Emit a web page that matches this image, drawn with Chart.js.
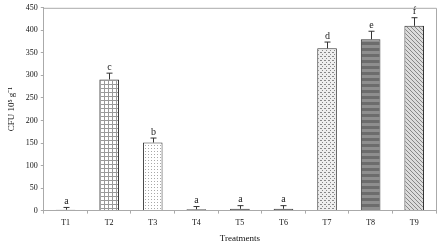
<!DOCTYPE html>
<html>
<head>
<meta charset="utf-8">
<script src="https://cdn.jsdelivr.net/npm/chart.js@4"></script>
<style>
  html, body { margin: 0; padding: 0; background: #fff; }
  #wrap { width: 440px; height: 245px; }
</style>
</head>
<body>
<div id="wrap"><canvas id="bar-chart" width="440" height="245"></canvas></div>
<script>
const treatments = ['T1', 'T2', 'T3', 'T4', 'T5', 'T6', 'T7', 'T8', 'T9']
const cfu = [2, 291, 151, 3, 4, 4, 360, 380, 410]
const errors = [5, 14, 10, 6, 7, 7, 14, 18, 18]
const letters = ['a', 'c', 'b', 'a', 'a', 'a', 'd', 'e', 'f']
const yTicks = [0, 50, 100, 150, 200, 250, 300, 350, 400, 450]

// little tile patterns for the bar fills
function tile(w, h, draw) {
    const c = document.createElement('canvas')
    c.width = w
    c.height = h
    const g = c.getContext('2d')
    draw(g)
    return g.createPattern(c, 'repeat')
}
const ctx = document.getElementById('bar-chart').getContext('2d')

const gridPat = tile(4, 4, g => {
    g.fillStyle = '#fff'; g.fillRect(0, 0, 4, 4)
    g.fillStyle = '#9a9a9a'; g.fillRect(0, 0, 4, 1); g.fillRect(0, 0, 1, 4)
})
const dotPat = tile(3, 3, g => {
    g.fillStyle = '#fff'; g.fillRect(0, 0, 3, 3)
    g.fillStyle = '#a8a8a8'; g.fillRect(1, 1, 1, 1)
})
const dashPat = tile(4, 4, g => {
    g.fillStyle = '#eee'; g.fillRect(0, 0, 4, 4)
    g.fillStyle = '#888'; g.fillRect(0, 0, 2, 1); g.fillRect(2, 2, 1, 1)
})
const stripePat = tile(6, 6, g => {
    g.fillStyle = '#6c6c6c'; g.fillRect(0, 0, 6, 6)
    g.fillStyle = '#8e8e8e'; g.fillRect(0, 3, 6, 3)
})
const hatchPat = tile(4, 4, g => {
    g.fillStyle = '#dcdcdc'; g.fillRect(0, 0, 4, 4)
    g.fillStyle = '#888'
    g.fillRect(0, 0, 1, 1); g.fillRect(1, 1, 1, 1); g.fillRect(2, 2, 1, 1); g.fillRect(3, 3, 1, 1)
})
const fills = ['#555', gridPat, dotPat, '#555', '#555', '#555', dashPat, stripePat, hatchPat]

// error bars, letters and the frame
const extras = {
    id: 'extras',
    afterDatasetsDraw(chart) {
        const c = chart.ctx
        const y = chart.scales.y
        const area = chart.chartArea
        const meta = chart.getDatasetMeta(0)
        c.save()
        c.strokeStyle = '#333'
        c.lineWidth = 1
        c.fillStyle = '#222'
        c.font = '10px "Liberation Serif"'
        c.textAlign = 'center'
        c.textBaseline = 'bottom'
        meta.data.forEach((bar, i) => {
            const x = Math.round(bar.x) + 0.5
            const top = y.getPixelForValue(cfu[i] + errors[i])
            c.beginPath()
            c.moveTo(x, bar.y)
            c.lineTo(x, top)
            c.moveTo(x - 3, top)
            c.lineTo(x + 3, top)
            c.stroke()
            c.fillText(letters[i], x, top - 1)
        })
        c.strokeStyle = '#aaa'
        c.beginPath()
        c.moveTo(area.left, area.top + 0.5)
        c.lineTo(area.right + 0.5, area.top + 0.5)
        c.lineTo(area.right + 0.5, area.bottom)
        c.stroke()
        c.restore()
    }
}

new Chart(ctx, {
    type: 'bar',
    data: {
        labels: treatments,
        datasets: [{
            data: cfu,
            backgroundColor: fills,
            borderColor: '#333',
            borderWidth: 1,
            barPercentage: 0.45,
            categoryPercentage: 1
        }]
    },
    options: {
        responsive: false,
        animation: false,
        layout: { padding: { top: 5, right: 4, left: 6, bottom: 1 } },
        plugins: { legend: { display: false }, tooltip: { enabled: false } },
        scales: {
            x: {
                grid: { drawOnChartArea: false, color: '#aaa', tickLength: 3, offset: true },
                border: { color: '#aaa' },
                ticks: { color: '#111', font: { family: 'Liberation Serif', size: 8 }, padding: 5 },
                title: { display: true, text: 'Treatments', color: '#111', font: { family: 'Liberation Serif', size: 9 }, padding: { top: 0, bottom: 0 } }
            },
            y: {
                min: 0,
                max: 450,
                afterBuildTicks: axis => { axis.ticks = yTicks.map(v => ({ value: v })) },
                grid: { drawOnChartArea: false, color: '#aaa', tickLength: 3 },
                border: { color: '#aaa' },
                ticks: { color: '#111', font: { family: 'Liberation Serif', size: 8 }, padding: 3 },
                title: { display: true, text: 'CFU 10\u2075 g\u207B\u00B9', color: '#111', font: { family: 'Liberation Serif', size: 9 }, padding: { top: 0, bottom: 6 } }
            }
        }
    },
    plugins: [extras]
})
</script>
</body>
</html>
